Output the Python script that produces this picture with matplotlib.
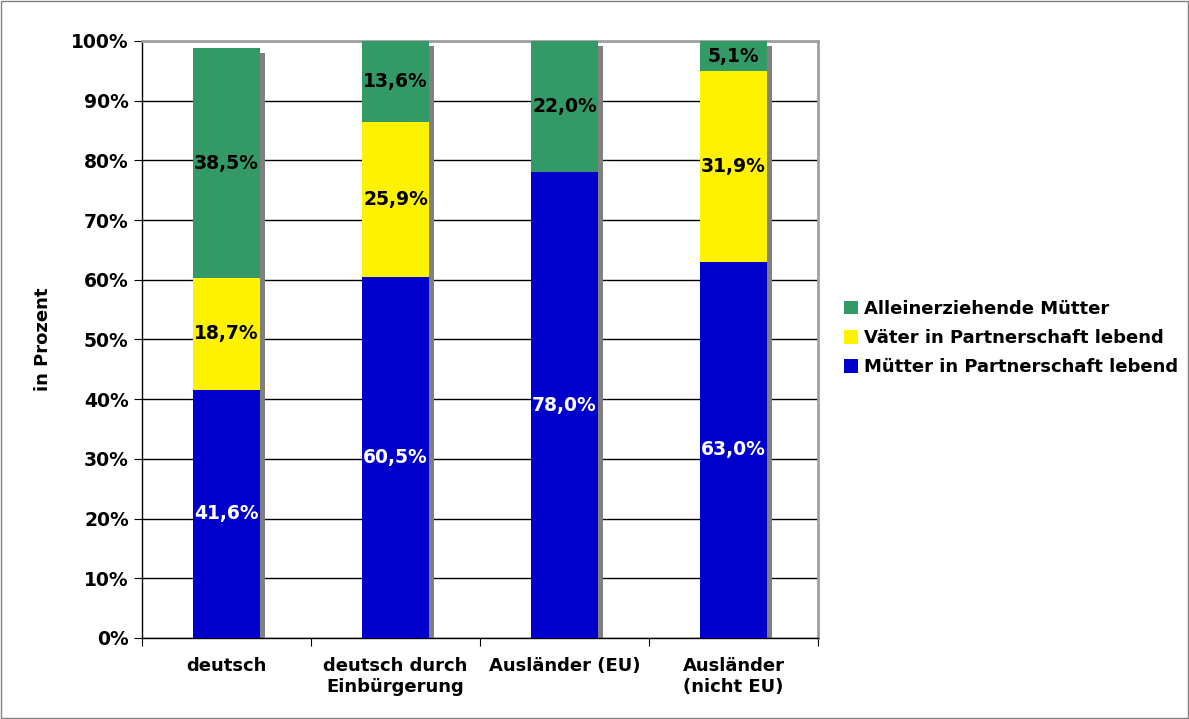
import matplotlib.pyplot as plt
import numpy as np
from matplotlib.patches import Rectangle

categories = ['deutsch', 'deutsch durch\nEinbürgerung', 'Ausländer (EU)', 'Ausländer\n(nicht EU)']
muetter_partner = [41.6, 60.5, 78.0, 63.0]
vaeter_partner = [18.7, 25.9, 0.0, 31.9]
alleinerziehend = [38.5, 13.6, 22.0, 5.1]

series = [
    ('Mütter in Partnerschaft lebend', muetter_partner, '#0000CC', 'white'),
    ('Väter in Partnerschaft lebend', vaeter_partner, '#FFF200', 'black'),
    ('Alleinerziehende Mütter', alleinerziehend, '#339966', 'black'),
]

fig = plt.figure(figsize=(11.89, 7.19), dpi=100)
fig.patches.append(Rectangle((0.001, 0.001), 0.998, 0.997, transform=fig.transFigure,
                             fill=False, edgecolor='#808080', lw=1))
ax = fig.add_axes([0.1194, 0.1127, 0.5686, 0.8303])

x = np.arange(len(categories))
width = 0.40
totals = np.sum([s[1] for s in series], axis=0)

# shadow
ax.bar(x + 0.03, totals - 0.85, width, bottom=0, color='#808080', zorder=2)

bottom = np.zeros(len(categories))
handles = []
for name, vals, col, tcol in series:
    vals = np.array(vals)
    b = ax.bar(x, vals, width, bottom=bottom, color=col, label=name, zorder=3)
    handles.append(b)
    for xi, v, bt in zip(x, vals, bottom):
        if v > 0:
            ax.text(xi, min(bt + v / 2, 98.3), ('%.1f%%' % v).replace('.', ','),
                    ha='center', va='center', color=tcol, fontsize=13.5,
                    fontweight='bold', zorder=4)
    bottom += vals

ax.set_xlim(-0.5, len(categories) - 0.5)
ax.set_ylim(0, 100)
ax.set_yticks(np.arange(0, 101, 10))
ax.set_yticklabels(['%d%%' % v for v in range(0, 101, 10)], fontsize=13.5, fontweight='bold')
ax.yaxis.grid(True, color='black', lw=1)
ax.set_axisbelow(True)
ax.set_xticks(np.arange(-0.5, len(categories), 1.0))
ax.set_xticklabels([])
ax.set_xticks(x, minor=True)
ax.set_xticklabels(categories, minor=True, fontsize=13, fontweight='bold')
ax.tick_params(axis='x', which='minor', length=0, pad=14)
ax.tick_params(axis='x', which='major', length=6, direction='out', color='black')
ax.tick_params(axis='y', length=6, direction='out', color='black')
for sp in ['top', 'right']:
    ax.spines[sp].set_color('#A0A0A0')
    ax.spines[sp].set_linewidth(2)
for sp in ['left', 'bottom']:
    ax.spines[sp].set_color('black')
    ax.spines[sp].set_linewidth(1)
ax.set_ylabel('in Prozent', fontsize=13, fontweight='bold', labelpad=14)

leg = fig.legend(handles[::-1], [s[0] for s in series][::-1], loc='center left',
                 bbox_to_anchor=(0.696, 0.53), frameon=False,
                 prop={'size': 13, 'weight': 'bold'}, handlelength=0.8,
                 handleheight=0.8, handletextpad=0.3, labelspacing=0.62)

fig.savefig('out.png', dpi=100)
